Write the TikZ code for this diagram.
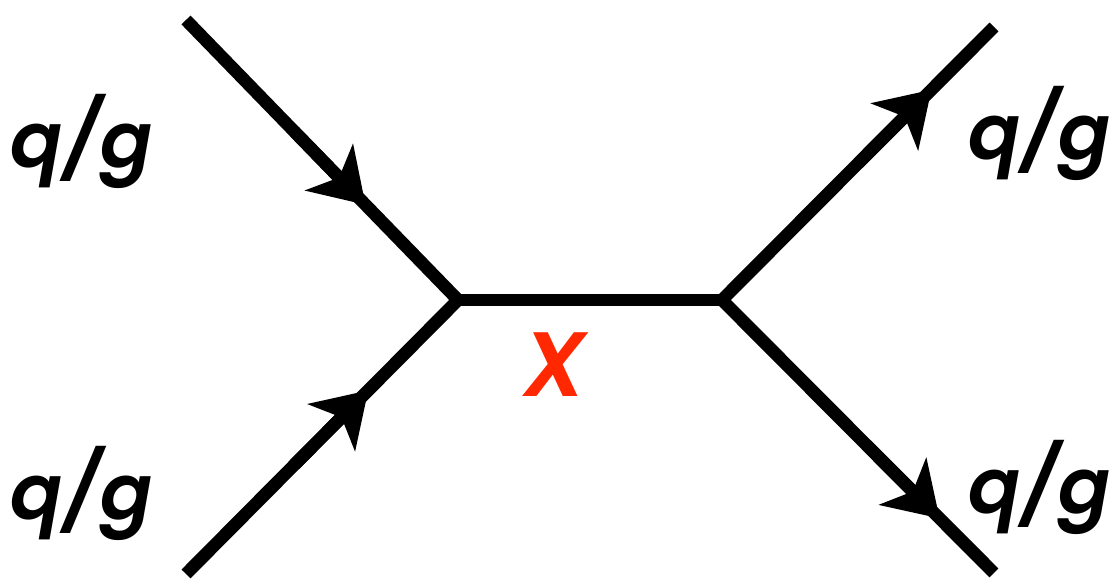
\documentclass[tikz,border=0pt]{standalone}
\usepackage{fontspec}
\setmainfont{Poppins}
\newfontfamily\lblfont{Poppins SemiBold Italic}
\usetikzlibrary{calc, positioning}
\usetikzlibrary{arrows.meta}
\definecolor{xred}{RGB}{255,40,0}

\begin{document}
\begin{tikzpicture}[
  line/.style={line width=3.6pt},
  flow/.style={line width=3.6pt, -{Stealth[length=5.2mm, width=6.6mm, inset=1.4mm]}},
  lbl/.style={font=\fontsize{22}{26}\selectfont\lblfont, inner sep=0pt, anchor=base}
]
\useasboundingbox (0,0) rectangle (11.13,5.84);

\coordinate (L) at (4.58,2.84);
\coordinate (R) at (7.22,2.84);
\coordinate (A) at (1.86,5.64);
\coordinate (B) at (1.86,0.10);
\coordinate (C) at (9.94,5.57);
\coordinate (D) at (9.94,0.11);

\draw[line] (A) -- (L) -- (B);
\draw[line] (L) -- (R);
\draw[line] (C) -- (R) -- (D);

\draw[flow] ($(A)!0.40!(L)$) -- ($(A)!0.66!(L)$);
\draw[flow] ($(B)!0.40!(L)$) -- ($(B)!0.67!(L)$);
\draw[flow] ($(R)!0.50!(C)$) -- ($(R)!0.77!(C)$);
\draw[flow] ($(R)!0.53!(D)$) -- ($(R)!0.80!(D)$);

\node[lbl] (qa) at (0.82,4.16) {q/g};
\node[lbl] (qb) at (0.82,0.64) {q/g};
\node[lbl] (qc) at (10.40,4.24) {q/g};
\node[lbl] (qd) at (10.40,0.70) {q/g};
\node[lbl, text=xred, font=\fontsize{26}{30}\selectfont\lblfont] (x) at (5.55,1.87) {X};
\end{tikzpicture}
\end{document}
